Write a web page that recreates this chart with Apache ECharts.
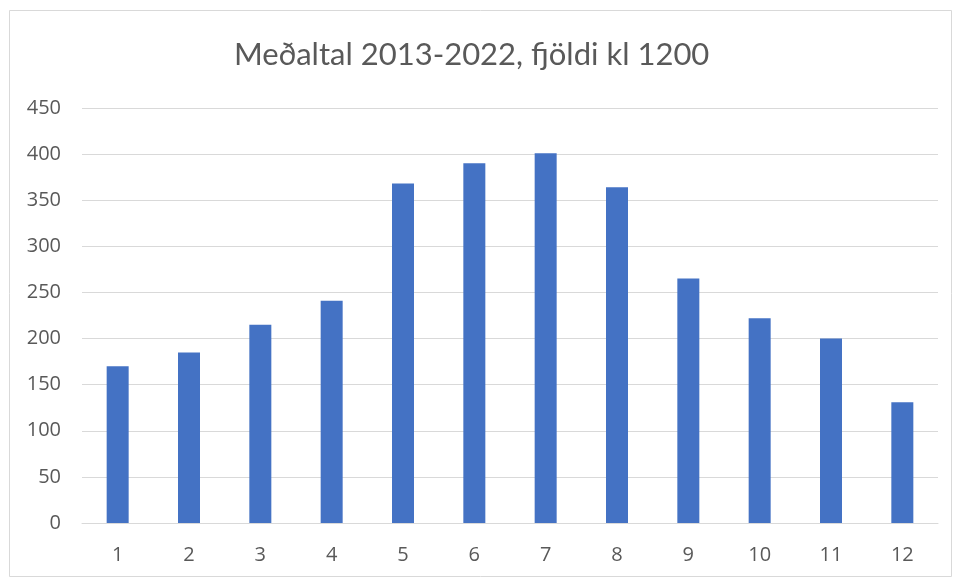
<!DOCTYPE html>
<html>
<head>
<meta charset="utf-8">
<script src="https://cdn.jsdelivr.net/npm/echarts@6/dist/echarts.min.js"></script>
<style>html,body{margin:0;padding:0;background:#fff;}#c{width:957px;height:581px;}</style>
</head>
<body>
<div id="c"></div>
<script>
const categories = ['1','2','3','4','5','6','7','8','9','10','11','12'];
const values = [170, 185, 215, 241, 368, 390, 401, 364, 265, 222, 200, 131];
const titleText = 'Meðaltal 2013-2022, fjöldi kl 1200';

const chart = echarts.init(document.getElementById('c'));
chart.setOption({
  animation: false,
  backgroundColor: '#ffffff',
  graphic: [{
    type: 'rect', left: 7, top: 8,
    shape: { width: 942, height: 566 },
    style: { fill: 'none', stroke: '#d9d9d9', lineWidth: 1 }
  }],
  title: {
    text: titleText, left: 229, top: 34,
    textStyle: { fontFamily: 'Lato, "Open Sans", sans-serif', fontSize: 31, fontWeight: 'normal', color: '#595959' }
  },
  grid: { left: 82, right: 19, top: 108, bottom: 58 },
  xAxis: {
    type: 'category', data: categories,
    axisLine: { lineStyle: { color: '#d9d9d9' } },
    axisTick: { show: false },
    axisLabel: { color: '#595959', fontSize: 20, fontFamily: '"Open Sans", sans-serif', margin: 22 }
  },
  yAxis: {
    type: 'value', min: 0, max: 450, interval: 50,
    axisLine: { show: false }, axisTick: { show: false },
    splitLine: { lineStyle: { color: '#d9d9d9' } },
    axisLabel: { color: '#595959', fontSize: 20, fontFamily: '"Open Sans", sans-serif', margin: 21 }
  },
  series: [{
    type: 'bar', data: values, barWidth: 22,
    itemStyle: { color: '#4472C4' }
  }]
});
</script>
</body>
</html>
